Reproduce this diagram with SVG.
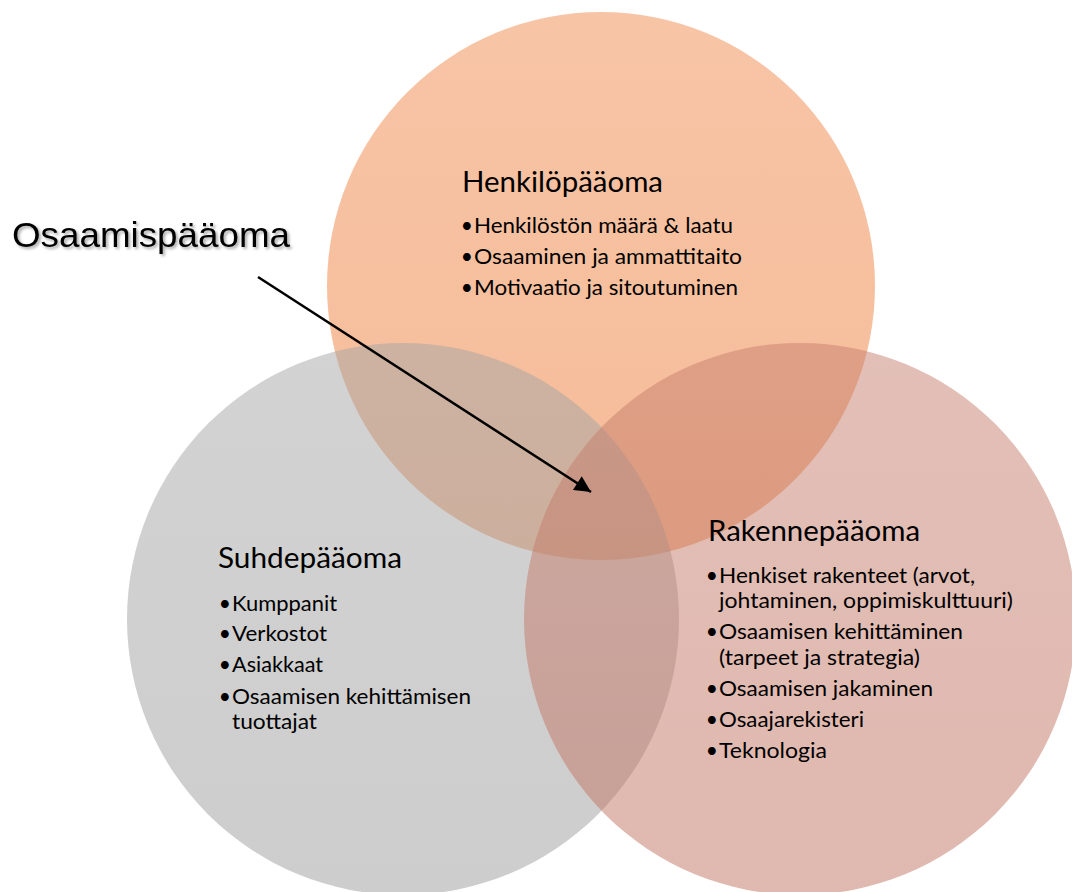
<svg xmlns="http://www.w3.org/2000/svg" width="1072" height="892" viewBox="0 0 1072 892">
<style>
.t{font-family:Lato,"Open Sans","Liberation Sans",sans-serif;fill:#000}
.h{font-size:28px}
.b{font-size:21px}
.d{font-family:Lato,"Open Sans","Liberation Sans",sans-serif;font-size:21px;fill:#000;text-anchor:end}
.big{font-family:"Liberation Sans",Arial,sans-serif;font-size:35px;fill:#000}
</style>
<defs>
<linearGradient id="gO" x1="0" y1="0" x2="0" y2="1">
<stop offset="0" stop-color="#EF8A4E"/>
<stop offset="1" stop-color="#EC7830"/>
</linearGradient>
<linearGradient id="gG" x1="0" y1="0" x2="0" y2="1">
<stop offset="0" stop-color="#A6A6A6"/>
<stop offset="1" stop-color="#9C9C9C"/>
</linearGradient>
<linearGradient id="gP" x1="0" y1="0" x2="0" y2="1">
<stop offset="0" stop-color="#C6806F"/>
<stop offset="1" stop-color="#C07260"/>
</linearGradient>
<filter id="sh" x="-10%" y="-30%" width="120%" height="160%">
<feDropShadow dx="2" dy="2" stdDeviation="1.5" flood-color="#000" flood-opacity="0.35"/>
</filter>
<marker id="ah" viewBox="0 0 10 10" refX="10" refY="5" markerWidth="8" markerHeight="6.5" markerUnits="strokeWidth" orient="auto">
<path d="M0,0 L10,5 L0,10 z" fill="#000"/>
</marker>
</defs>
<rect width="1072" height="892" fill="#fff"/>
<g id="circles">
<circle id="henkilo-circle" cx="601" cy="286" r="274" fill="url(#gO)" fill-opacity="0.5"/>
<circle id="suhde-circle" cx="403" cy="619" r="276" fill="url(#gG)" fill-opacity="0.5"/>
<circle id="rakenne-circle" cx="800" cy="619" r="276" fill="url(#gP)" fill-opacity="0.5"/>
</g>
<g id="henkilopaaoma">
<text class="t h" x="462" y="192" textLength="201" lengthAdjust="spacingAndGlyphs">Henkilöpääoma</text>
<text class="d" x="473" y="233">•</text>
<text class="t b" x="474" y="233" textLength="259" lengthAdjust="spacingAndGlyphs">Henkilöstön määrä &amp; laatu</text>
<text class="d" x="473" y="264">•</text>
<text class="t b" x="474" y="264" textLength="268" lengthAdjust="spacingAndGlyphs">Osaaminen ja ammattitaito</text>
<text class="d" x="473" y="295">•</text>
<text class="t b" x="474" y="295" textLength="264" lengthAdjust="spacingAndGlyphs">Motivaatio ja sitoutuminen</text>
</g>
<g id="suhdepaaoma">
<text class="t h" x="218" y="568" textLength="184" lengthAdjust="spacingAndGlyphs">Suhdepääoma</text>
<text class="d" x="231" y="611">•</text>
<text class="t b" x="232" y="611" textLength="105" lengthAdjust="spacingAndGlyphs">Kumppanit</text>
<text class="d" x="231" y="641">•</text>
<text class="t b" x="232" y="641" textLength="95" lengthAdjust="spacingAndGlyphs">Verkostot</text>
<text class="d" x="231" y="672">•</text>
<text class="t b" x="232" y="672" textLength="91" lengthAdjust="spacingAndGlyphs">Asiakkaat</text>
<text class="d" x="231" y="704">•</text>
<text class="t b" x="232" y="704" textLength="239" lengthAdjust="spacingAndGlyphs">Osaamisen kehittämisen</text>
<text class="t b" x="232" y="729" textLength="85" lengthAdjust="spacingAndGlyphs">tuottajat</text>
</g>
<g id="rakennepaaoma">
<text class="t h" x="708" y="541" textLength="212" lengthAdjust="spacingAndGlyphs">Rakennepääoma</text>
<text class="d" x="718" y="583">•</text>
<text class="t b" x="719" y="583" textLength="256" lengthAdjust="spacingAndGlyphs">Henkiset rakenteet (arvot,</text>
<text class="t b" x="719" y="608" textLength="294" lengthAdjust="spacingAndGlyphs">johtaminen, oppimiskulttuuri)</text>
<text class="d" x="718" y="639">•</text>
<text class="t b" x="719" y="639" textLength="244" lengthAdjust="spacingAndGlyphs">Osaamisen kehittäminen</text>
<text class="t b" x="719" y="665" textLength="201" lengthAdjust="spacingAndGlyphs">(tarpeet ja strategia)</text>
<text class="d" x="718" y="696">•</text>
<text class="t b" x="719" y="696" textLength="214" lengthAdjust="spacingAndGlyphs">Osaamisen jakaminen</text>
<text class="d" x="718" y="727">•</text>
<text class="t b" x="719" y="727" textLength="145" lengthAdjust="spacingAndGlyphs">Osaajarekisteri</text>
<text class="d" x="718" y="758">•</text>
<text class="t b" x="719" y="758" textLength="108" lengthAdjust="spacingAndGlyphs">Teknologia</text>
</g>
<g id="osaamispaaoma">
<text class="big" x="12" y="247" textLength="278" lengthAdjust="spacingAndGlyphs" filter="url(#sh)">Osaamispääoma</text>
</g>
<g id="connectors">
<line x1="258" y1="277" x2="591" y2="492" stroke="#000" stroke-width="2.5" marker-end="url(#ah)"/>
</g>
</svg>
